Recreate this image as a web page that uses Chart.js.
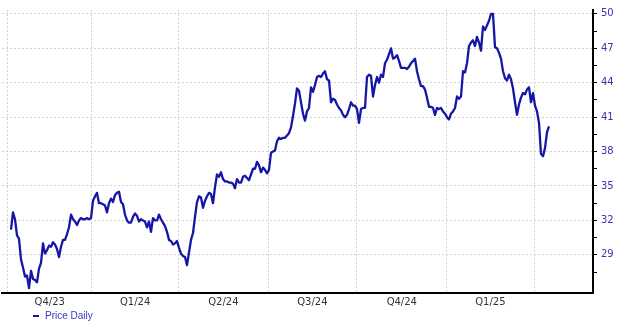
<!DOCTYPE html>
<html>
<head>
<meta charset="utf-8">
<script src="https://cdn.jsdelivr.net/npm/chart.js@4.4.1/dist/chart.umd.min.js"></script>
<style>
  body { margin: 0; background: #fff; }
</style>
</head>
<body>
<canvas id="priceChart" width="620" height="322"></canvas>
<script>
// daily closes, one value every ~2 sessions
const prices = [
  31.2, 32.7, 32.1, 30.7, 30.4, 28.6, 27.9, 27.1, 27.2, 26.1,
  27.6, 26.9, 26.8, 26.6, 27.8, 28.3, 30.0, 29.1, 29.4, 29.8,
  29.7, 30.1, 29.9, 29.5, 28.8, 29.7, 30.3, 30.3, 30.8, 31.4,
  32.5, 32.1, 31.9, 31.6, 32.0, 32.2, 32.1, 32.1, 32.2, 32.1,
  32.2, 33.7, 34.1, 34.4, 33.5, 33.5, 33.4, 33.3, 32.7, 33.5,
  33.9, 33.6, 34.2, 34.4, 34.5, 33.6, 33.4, 32.5, 32.0, 31.8,
  31.8, 32.3, 32.6, 32.4, 31.9, 32.1, 32.0, 31.9, 31.4, 31.9,
  31.0, 32.2, 32.0, 32.0, 32.5, 32.1, 31.8, 31.5, 31.0, 30.3,
  30.2, 29.9, 30.0, 30.2, 29.6, 29.1, 28.9, 28.8, 28.1, 29.2,
  30.3, 30.9, 32.3, 33.6, 34.1, 34.0, 33.1, 33.7, 34.1, 34.4,
  34.3, 33.5, 34.9, 36.0, 35.8, 36.2, 35.6, 35.4, 35.4, 35.3,
  35.3, 35.2, 34.8, 35.6, 35.3, 35.3, 35.8, 35.9, 35.7, 35.5,
  36.0, 36.5, 36.5, 37.1, 36.8, 36.2, 36.6, 36.4, 36.1, 36.4,
  37.9, 38.0, 38.1, 38.9, 39.2, 39.1, 39.2, 39.2, 39.4, 39.6,
  40.1, 41.1, 42.2, 43.5, 43.3, 42.3, 41.3, 40.7, 41.5, 41.8,
  43.6, 43.2, 43.8, 44.5, 44.6, 44.5, 44.8, 45.0, 44.3, 44.2,
  42.3, 42.6, 42.5, 42.1, 41.8, 41.6, 41.2, 41.0, 41.2, 41.7,
  42.3, 42.0, 42.0, 41.7, 40.5, 41.7, 41.8, 41.8, 44.5, 44.7,
  44.6, 42.8, 43.8, 44.5, 44.0, 44.7, 44.5, 45.7, 46.0, 46.5,
  47.0, 46.1, 46.2, 46.4, 45.9, 45.3, 45.3, 45.3, 45.2, 45.4,
  45.7, 45.9, 46.1, 45.0, 44.3, 43.7, 43.7, 43.4, 42.7, 41.9,
  41.9, 41.8, 41.2, 41.8, 41.7, 41.8, 41.5, 41.3, 41.0, 40.8,
  41.3, 41.5, 41.8, 42.8, 42.6, 42.8, 45.0, 44.9, 45.7, 47.2,
  47.5, 47.7, 47.2, 48.0, 47.5, 46.8, 48.9, 48.6, 49.0, 49.4,
  50.0, 50.0, 47.1, 47.0, 46.6, 46.1, 45.0, 44.4, 44.2, 44.7,
  44.3, 43.5, 42.3, 41.2, 42.1, 42.7, 43.1, 43.0, 43.4, 43.6,
  42.3, 43.1, 42.0, 41.5, 40.5, 37.8, 37.6, 38.3, 39.7, 40.2
];

// quarter boundaries on the sample index axis
const quarterStarts = [-1.5, 40.2, 83.9, 128.5, 172.9, 217.9, 261.5];
const quarterLabels = ['Q4/23', 'Q1/24', 'Q2/24', 'Q3/24', 'Q4/24', 'Q1/25'];

const priceTicks = [29, 32, 35, 38, 41, 44, 47, 50];
const minorTicks = [27.5, 30.5, 33.5, 36.5, 39.5, 42.5, 45.5, 48.5];

const seriesLabel = 'Price Daily';
const lineColor = '#1616a6';

const labelTicks = quarterLabels.map((q, i) => (quarterStarts[i] + quarterStarts[i + 1]) / 2);
const points = prices.map((p, i) => ({ x: i, y: p }));

const bottomLegend = {
  id: 'bottomLegend',
  afterDraw(chart) {
    const ctx = chart.ctx;
    const ds = chart.data.datasets[0];
    const y = 316;
    ctx.save();
    ctx.strokeStyle = ds.borderColor;
    ctx.lineWidth = 2;
    ctx.beginPath();
    ctx.moveTo(33, y);
    ctx.lineTo(39, y);
    ctx.stroke();
    ctx.fillStyle = '#3a3ab4';
    ctx.font = '10px "Liberation Sans", Arial, sans-serif';
    ctx.textBaseline = 'middle';
    ctx.fillText(ds.label, 45, y);
    ctx.restore();
  }
};

new Chart(document.getElementById('priceChart').getContext('2d'), {
  type: 'line',
  data: {
    datasets: [{
      label: seriesLabel,
      data: points,
      borderColor: lineColor,
      borderWidth: 2.3,
      borderJoinStyle: 'round',
      pointRadius: 0,
      tension: 0,
      fill: false
    }]
  },
  options: {
    responsive: false,
    animation: false,
    devicePixelRatio: 1,
    layout: {
      autoPadding: false,
      padding: { top: 2, left: 2, right: 0, bottom: 15 }
    },
    scales: {
      x: {
        type: 'linear',
        min: -4.5,
        max: 291,
        afterBuildTicks: (scale) => {
          scale.ticks = [...quarterStarts, ...labelTicks]
            .sort((a, b) => a - b)
            .map(v => ({ value: v }));
        },
        afterFit: (scale) => { scale.height = 14; },
        grid: {
          color: (c) => (c.tick && quarterStarts.includes(c.tick.value)) ? '#d2d2d2' : 'rgba(0,0,0,0)',
          lineWidth: 1,
          drawTicks: false
        },
        border: { color: '#000', width: 2, dash: [2, 2] },
        ticks: {
          autoSkip: false,
          maxRotation: 0,
          padding: 3,
          color: '#333',
          font: { family: 'DejaVu Sans', size: 10 },
          callback: (v) => {
            const k = labelTicks.indexOf(v);
            return k >= 0 ? quarterLabels[k] : '';
          }
        }
      },
      y: {
        type: 'linear',
        position: 'right',
        min: 25.67,
        max: 50.34,
        afterBuildTicks: (scale) => {
          scale.ticks = [...priceTicks, ...minorTicks]
            .sort((a, b) => a - b)
            .map(v => ({ value: v }));
        },
        afterFit: (scale) => { scale.width = 27; },
        grid: {
          color: (c) => (c.tick && priceTicks.includes(c.tick.value)) ? '#d2d2d2' : 'rgba(0,0,0,0)',
          lineWidth: 1,
          tickColor: '#000',
          tickLength: 4,
          drawTicks: true
        },
        border: { color: '#000', width: 2, dash: [2, 2] },
        ticks: {
          autoSkip: false,
          padding: 4,
          color: '#3434b0',
          font: { family: 'DejaVu Sans', size: 10 },
          callback: (v) => priceTicks.includes(v) ? String(v) : ''
        }
      }
    },
    plugins: {
      legend: { display: false },
      tooltip: { enabled: false }
    }
  },
  plugins: [bottomLegend]
});
</script>
</body>
</html>
